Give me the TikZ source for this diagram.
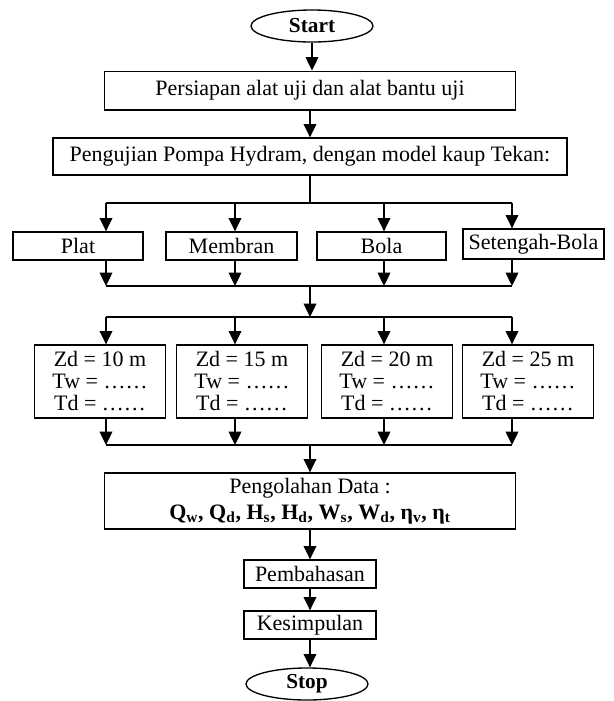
\documentclass[tikz,border=0pt]{standalone}
\usepackage{fontspec}
\setmainfont{Liberation Serif}
\usetikzlibrary{arrows.meta, shapes.geometric}

\begin{document}
\begin{tikzpicture}[
    x=0.75pt, y=-0.75pt,
    box/.style={draw, line width=1pt, inner sep=1pt, align=center, font=\fontsize{16.5}{16.5}\selectfont},
    term/.style={box, ellipse, font=\fontsize{16}{16.5}\selectfont\bfseries, minimum width=91.5pt, minimum height=24pt},
    kaup/.style={box, minimum height=21pt},
    data/.style={box, minimum width=98pt, minimum height=54.75pt},
    arr/.style={-{Triangle[length=10pt, width=9.5pt]}, line width=1pt},
    bus/.style={line width=1pt}
]
    \useasboundingbox (0,0) rectangle (614,701);
    \node[term] (start) at (312,26) {Start};
    \node[box, minimum width=308pt, minimum height=29pt] (siap) at (310,90.5) {Persiapan alat uji dan alat bantu uji};
    \node[box, minimum width=385.5pt, minimum height=27.75pt] (uji) at (310,156.5) {Pengujian Pompa Hydram, dengan model kaup Tekan:};
    % model kaup
    \node[kaup, minimum width=97.5pt] (r1-1) at (78,246) {Plat};
    \node[kaup, minimum width=98.25pt] (r1-2) at (231.5,246) {Membran};
    \node[kaup, minimum width=96.75pt] (r1-3) at (381.5,246) {Bola};
    \node[kaup, minimum width=105.75pt, minimum height=22.5pt] (r1-4) at (533.5,244) {Setengah-Bola};
    % tinggi Zd
    \node[data] (r2-1) at (100,381.5) {Zd = 10 m\\ Tw = \ldots\ldots\\ Td = \ldots\ldots};
    \node[data] (r2-2) at (242,381.5) {Zd = 15 m\\ Tw = \ldots\ldots\\ Td = \ldots\ldots};
    \node[data] (r2-3) at (387,381.5) {Zd = 20 m\\ Tw = \ldots\ldots\\ Td = \ldots\ldots};
    \node[data] (r2-4) at (528,381.5) {Zd = 25 m\\ Tw = \ldots\ldots\\ Td = \ldots\ldots};
    \node[box, minimum width=308pt, minimum height=42pt] (olah) at (310,501) {Pengolahan Data :\\[3pt]
        \textbf{Q\textsubscript{w}, Q\textsubscript{d}, H\textsubscript{s}, H\textsubscript{d}, W\textsubscript{s}, W\textsubscript{d}, η\textsubscript{v}, η\textsubscript{t}}};
    \node[box, minimum width=99pt, minimum height=21pt] (bahas) at (310,574) {Pembahasan};
    \node[box, minimum width=99pt, minimum height=21pt] (simpul) at (310,625) {Kesimpulan};
    \node[term] (stop) at (307,684) {Stop};
    % titik cabang
    \coordinate (a0) at (310,203);
    \coordinate (b0) at (310,286);
    \coordinate (c0) at (310,317);
    \coordinate (d0) at (310,445);
    \foreach \x [count=\i] in {106,235,384,512} {
        \coordinate (a\i) at (\x,203);
        \coordinate (b\i) at (\x,286);
        \coordinate (c\i) at (\x,317);
        \coordinate (d\i) at (\x,445);
    }
    \draw[arr] (start.south) -- (start.south |- siap.north);
    \draw[arr] (siap) -- (uji);
    \draw[bus] (uji) -- (a0);
    \draw[bus] (a1) -- (a4);
    \draw[bus] (b1) -- (b4);
    \draw[bus] (c1) -- (c4);
    \draw[bus] (d1) -- (d4);
    \foreach \i in {1,...,4} {
        \draw[arr] (a\i) -- (a\i |- r1-\i.north);
        \draw[arr] (a\i |- r1-\i.south) -- (b\i);
        \draw[arr] (c\i) -- (c\i |- r2-\i.north);
        \draw[arr] (c\i |- r2-\i.south) -- (d\i);
    }
    \draw[arr] (b0) -- (c0);
    \draw[arr] (d0) -- (olah);
    \draw[arr] (olah) -- (bahas);
    \draw[arr] (bahas) -- (simpul);
    \draw[arr] (simpul) -- (simpul |- stop.north);
\end{tikzpicture}
\end{document}
